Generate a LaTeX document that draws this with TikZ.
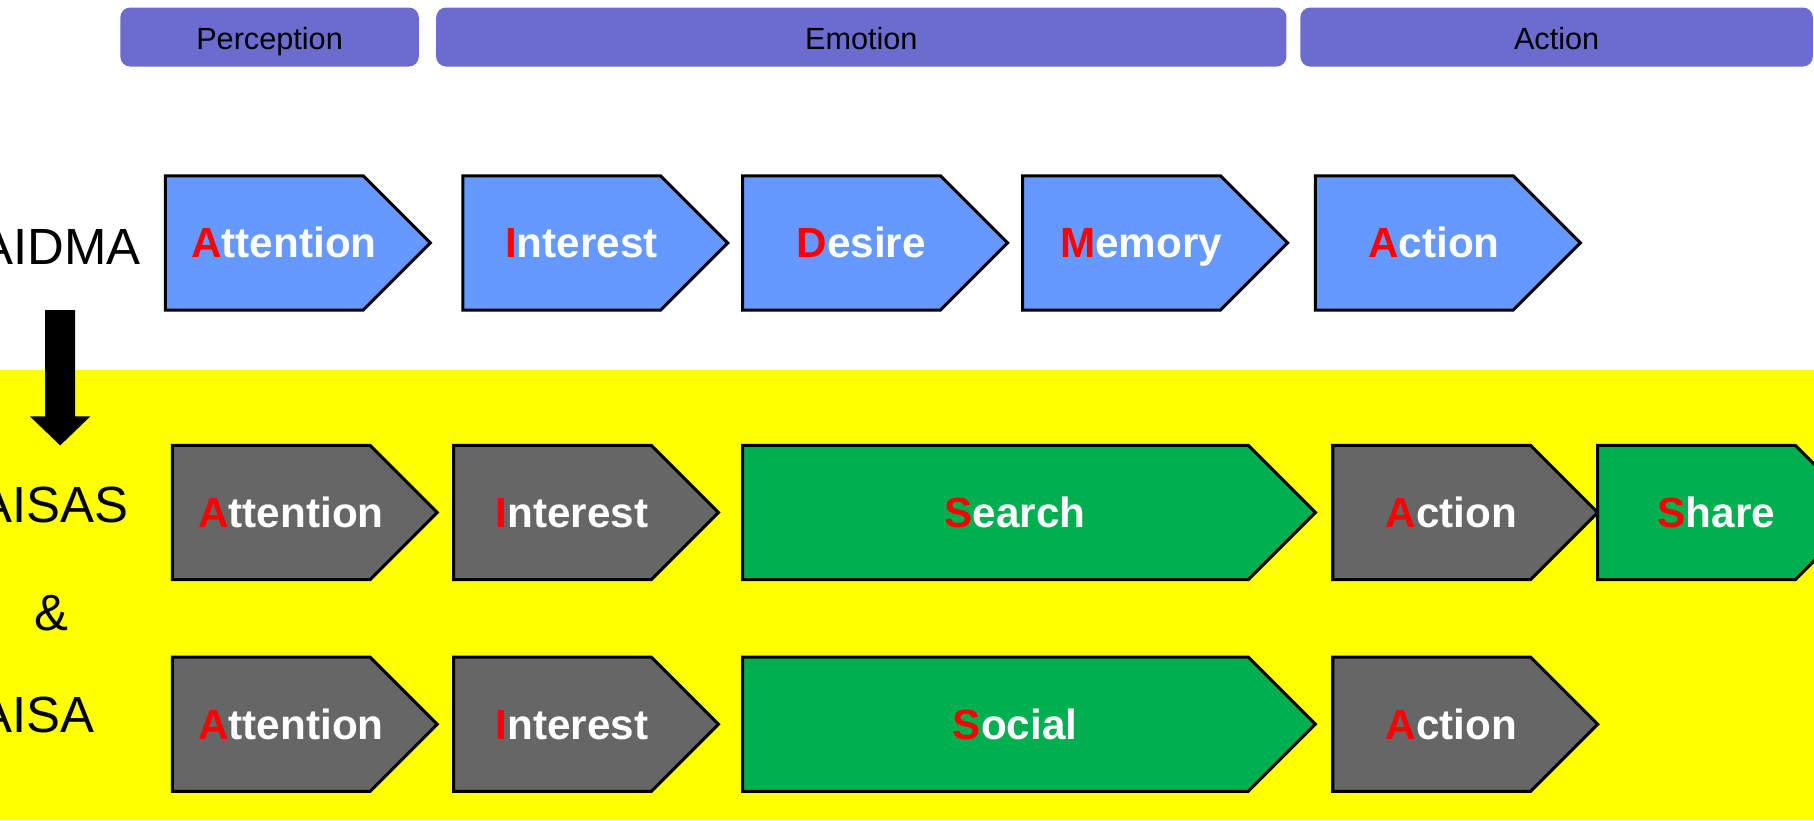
\documentclass[tikz,border=0pt]{standalone}
\usepackage{fontspec}
\setmainfont{Liberation Sans}
\usetikzlibrary{calc}
\definecolor{barpurple}{RGB}{107,108,205}
\definecolor{lblue}{RGB}{102,153,255}
\definecolor{dgray}{RGB}{102,102,102}
\definecolor{sgreen}{RGB}{0,176,80}
\definecolor{yell}{RGB}{255,255,0}
\definecolor{rred}{RGB}{255,0,0}
\tikzset{
  plate/.style={draw=black, line width=2.6pt, line join=miter},
  platetext/.style={anchor=base, text=white, font=\fontsize{36.5}{40}\selectfont\bfseries, inner sep=0pt},
  bartext/.style={anchor=base, text=black, font=\fontsize{26.5}{30}\selectfont, inner sep=0pt},
  modeltext/.style={anchor=base east, text=black, font=\fontsize{44}{48}\selectfont, inner sep=0pt},
}
\newcommand\hplate[6]{%
  \draw[plate, fill=#5] (#2,#3) -- ++(#4-58,0) -- ++(58,58) -- ++(-58,58) -- ++(-#4+58,0) -- cycle;
  \node[platetext] (#1) at (#2+#4/2-12, #3+71) {#6};
}
\newcommand\rl[1]{\textcolor{rred}{#1}}
\begin{document}
\begin{tikzpicture}[x=1pt, y=-1pt]
\useasboundingbox (0,0) rectangle (1568,709);
\fill[white] (0,0) rectangle (1568,709);
% yellow band
\fill[yell] (0,320) rectangle (1568,709);
% phase bars
\fill[barpurple, rounded corners=8.6pt] (104,6.5) rectangle (362,57.5);
\fill[barpurple, rounded corners=8.6pt] (377,6.5) rectangle (1112,57.5);
\fill[barpurple, rounded corners=8.6pt] (1124,6.5) rectangle (1567,57.5);
\node[bartext] (perc) at (233,43) {Perception};
\node[bartext] (emo) at (744.5,43) {Emotion};
\node[bartext] (act) at (1345.5,43) {Action};
% model labels
\node[modeltext] (aidma) at (122,229) {AIDMA};
\node[modeltext] (aisas) at (111,452) {AISAS};
\node[anchor=base, inner sep=0pt, font=\fontsize{44}{48}\selectfont] (amp) at (44.5,545) {\&};
\node[modeltext] (aisa) at (82,633.5) {AISA};
% down arrow
\fill[black] (39,268) -- (65,268) -- (65,360) -- (78,360) -- (52,385) -- (26,360) -- (39,360) -- cycle;
% AIDMA row
\hplate{a1}{143}{152}{229}{lblue}{\rl{A}ttention}
\hplate{a2}{400}{152}{229}{lblue}{\rl{I}nterest}
\hplate{a3}{642}{152}{229}{lblue}{\rl{D}esire}
\hplate{a4}{884}{152}{229}{lblue}{\rl{M}emory}
\hplate{a5}{1137}{152}{229}{lblue}{\rl{A}ction}
% AISAS row
\hplate{b1}{149}{385}{229}{dgray}{\rl{A}ttention}
\hplate{b2}{392}{385}{229}{dgray}{\rl{I}nterest}
\hplate{b3}{642}{385}{495}{sgreen}{\rl{S}earch}
\hplate{b4}{1152}{385}{229}{dgray}{\rl{A}ction}
\hplate{b5}{1381}{385}{229}{sgreen}{\rl{S}hare}
% AISA row
\hplate{c1}{149}{568}{229}{dgray}{\rl{A}ttention}
\hplate{c2}{392}{568}{229}{dgray}{\rl{I}nterest}
\hplate{c3}{642}{568}{495}{sgreen}{\rl{S}ocial}
\hplate{c4}{1152}{568}{229}{dgray}{\rl{A}ction}
\end{tikzpicture}
\end{document}
